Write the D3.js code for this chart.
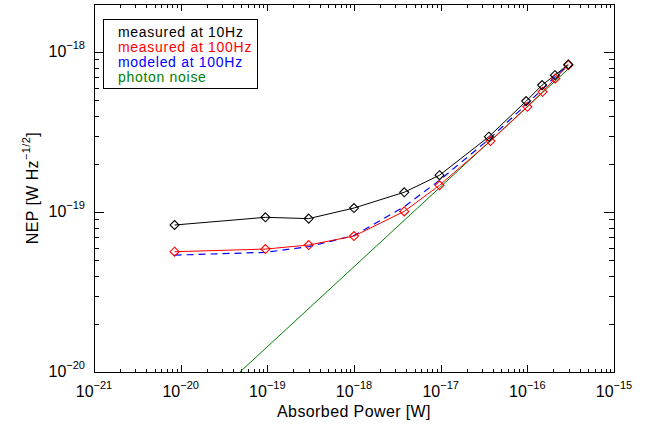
<!DOCTYPE html>
<html><head><meta charset="utf-8">
<script src="https://cdn.jsdelivr.net/npm/d3@7/dist/d3.min.js"></script>
<style>
body{margin:0;background:#fff;}
text{font-family:"Liberation Sans",Arial,Helvetica,sans-serif;}
</style></head>
<body><svg id="c" width="657" height="428"></svg>
<script>
// ---- data ----
const power10   = [8.5e-21, 9.5e-20, 3.0e-19, 1.0e-18, 3.8e-18, 9.7e-18, 3.6e-17, 9.7e-17, 1.48e-16, 2.08e-16, 2.97e-16];
const nep10     = [8.3e-20, 9.27e-20, 9.1e-20, 1.06e-19, 1.33e-19, 1.70e-19, 2.96e-19, 4.94e-19, 6.22e-19, 7.18e-19, 8.38e-19];
const power100  = [8.5e-21, 9.5e-20, 3.0e-19, 1.0e-18, 3.8e-18, 9.7e-18, 3.75e-17, 1.0e-16, 1.5e-16, 2.1e-16, 2.97e-16];
const nep100    = [5.65e-20, 5.87e-20, 6.22e-20, 7.08e-20, 1.01e-19, 1.47e-19, 2.78e-19, 4.55e-19, 5.65e-19, 6.85e-19, 8.29e-19];
const powerModel= [8.5e-21, 9.5e-20, 3.0e-19, 1.0e-18, 3.8e-18, 9.7e-18, 3.6e-17, 9.7e-17, 1.48e-16, 2.08e-16, 2.97e-16];
const nepModel  = [5.38e-20, 5.6e-20, 6.08e-20, 7.13e-20, 1.08e-19, 1.58e-19, 2.85e-19, 4.7e-19, 5.85e-19, 7.0e-19, 8.3e-19];
const photonPower = [4.83e-20, 3.0e-16];
const photonNEP   = [1.0e-20, 7.9e-19];
const xMajorExp = [-21, -20, -19, -18, -17, -16, -15];
const yMajorExp = [-20, -19, -18];
const legendLabels = ["measured at 10Hz", "measured at 100Hz", "modeled at 100Hz", "photon noise"];
const legendColors = ["#000000", "#ff0000", "#0000ff", "#007f00"];

const svg = d3.select("#c");
const L = 94, R = 614, T = 4, B = 372;
const x = d3.scaleLog().domain([1e-21, 1e-15]).range([L, R]);
const y = d3.scaleLog().domain([1e-20, 2e-18]).range([B, T]);

// minor ticks
const xMinor = [], yMinor = [];
for (let e = -21; e < -15; e++) for (let k = 2; k <= 9; k++) xMinor.push(k * Math.pow(10, e));
for (let e = -20; e < -17; e++) for (let k = 2; k <= 9; k++) { const v = k * Math.pow(10, e); if (v <= 2.0001e-18) yMinor.push(v); }
const xMajor = xMajorExp.map(e => Math.pow(10, e));
const yMajor = yMajorExp.map(e => Math.pow(10, e));

function axisG(axis, tx, ty) {
  const g = svg.append("g").attr("transform", `translate(${tx},${ty})`).call(axis);
  g.select(".domain").remove();
  g.selectAll("text").remove();
  g.selectAll("line").attr("stroke", "#000").attr("shape-rendering", "crispEdges");
  return g;
}
axisG(d3.axisBottom(x).tickValues(xMajor).tickSize(-7), 0, B);
axisG(d3.axisBottom(x).tickValues(xMinor).tickSize(-3.5), 0, B);
axisG(d3.axisTop(x).tickValues(xMajor).tickSize(-7), 0, T);
axisG(d3.axisTop(x).tickValues(xMinor).tickSize(-3.5), 0, T);
axisG(d3.axisLeft(y).tickValues(yMajor).tickSize(-10), L, 0);
axisG(d3.axisLeft(y).tickValues(yMinor).tickSize(-5), L, 0);
axisG(d3.axisRight(y).tickValues(yMajor).tickSize(-10), R, 0);
axisG(d3.axisRight(y).tickValues(yMinor).tickSize(-5), R, 0);

// frame
svg.append("rect").attr("x", L).attr("y", T).attr("width", R - L).attr("height", B - T)
  .attr("fill", "none").attr("stroke", "#000").attr("shape-rendering", "crispEdges");

// tick labels
xMajorExp.forEach(e => {
  const t = svg.append("text").attr("x", x(Math.pow(10, e))).attr("y", 397)
    .attr("text-anchor", "middle").attr("font-size", 16).attr("fill", "#000");
  t.append("tspan").text("10");
  t.append("tspan").attr("dy", -8).attr("font-size", 11).text("\u2212" + (-e));
});
yMajorExp.forEach(e => {
  const t = svg.append("text").attr("x", 85).attr("y", y(Math.pow(10, e)) + 5)
    .attr("text-anchor", "end").attr("font-size", 16).attr("fill", "#000");
  t.append("tspan").text("10");
  t.append("tspan").attr("dy", -8).attr("font-size", 11).text("\u2212" + (-e));
});

// axis titles
svg.append("text").attr("x", (L + R) / 2).attr("y", 417).attr("text-anchor", "middle")
  .attr("font-size", 16).attr("letter-spacing", 0.4).text("Absorbed Power [W]");
const yt = svg.append("text").attr("transform", `translate(38,${(T + B) / 2}) rotate(-90)`)
  .attr("text-anchor", "middle").attr("font-size", 16).attr("letter-spacing", 0.4);
yt.append("tspan").text("NEP [W Hz");
yt.append("tspan").attr("dy", -8).attr("font-size", 11).text("\u22121/2");
yt.append("tspan").attr("dy", 8).text("]");

// clip
svg.append("clipPath").attr("id", "clip").append("rect")
  .attr("x", L).attr("y", T).attr("width", R - L).attr("height", B - T);
const plot = svg.append("g").attr("clip-path", "url(#clip)");
const line = d3.line().x(d => x(d[0])).y(d => y(d[1]));

// photon noise
plot.append("path").attr("d", line(d3.zip(photonPower, photonNEP)))
  .attr("fill", "none").attr("stroke", legendColors[3]).attr("stroke-width", 1);
// modeled
plot.append("path").attr("d", line(d3.zip(powerModel, nepModel)))
  .attr("fill", "none").attr("stroke", legendColors[2]).attr("stroke-width", 1.2)
  .attr("stroke-dasharray", "7,5");
// measured 100Hz
plot.append("path").attr("d", line(d3.zip(power100, nep100)))
  .attr("fill", "none").attr("stroke", legendColors[1]).attr("stroke-width", 1);
// measured 10Hz
plot.append("path").attr("d", line(d3.zip(power10, nep10)))
  .attr("fill", "none").attr("stroke", legendColors[0]).attr("stroke-width", 1);

const diamond = (cx, cy, r) => `M${cx},${cy - r}L${cx + r},${cy}L${cx},${cy + r}L${cx - r},${cy}Z`;
function markers(px, py, color) {
  plot.append("g").selectAll("path").data(d3.zip(px, py)).join("path")
    .attr("d", d => diamond(x(d[0]), y(d[1]), 4.5))
    .attr("fill", "none").attr("stroke", color).attr("stroke-width", 1.1);
}
markers(power100, nep100, legendColors[1]);
markers(power10, nep10, legendColors[0]);

// legend
svg.append("rect").attr("x", 103.5).attr("y", 19.5).attr("width", 154).attr("height", 69)
  .attr("fill", "#fff").attr("stroke", "#000").attr("stroke-width", 1);
legendLabels.forEach((s, i) => {
  svg.append("text").attr("x", 118).attr("y", 36.5 + i * 15.2)
    .attr("font-size", 14).attr("letter-spacing", 0.7).attr("fill", legendColors[i]).text(s);
});
</script></body></html>
